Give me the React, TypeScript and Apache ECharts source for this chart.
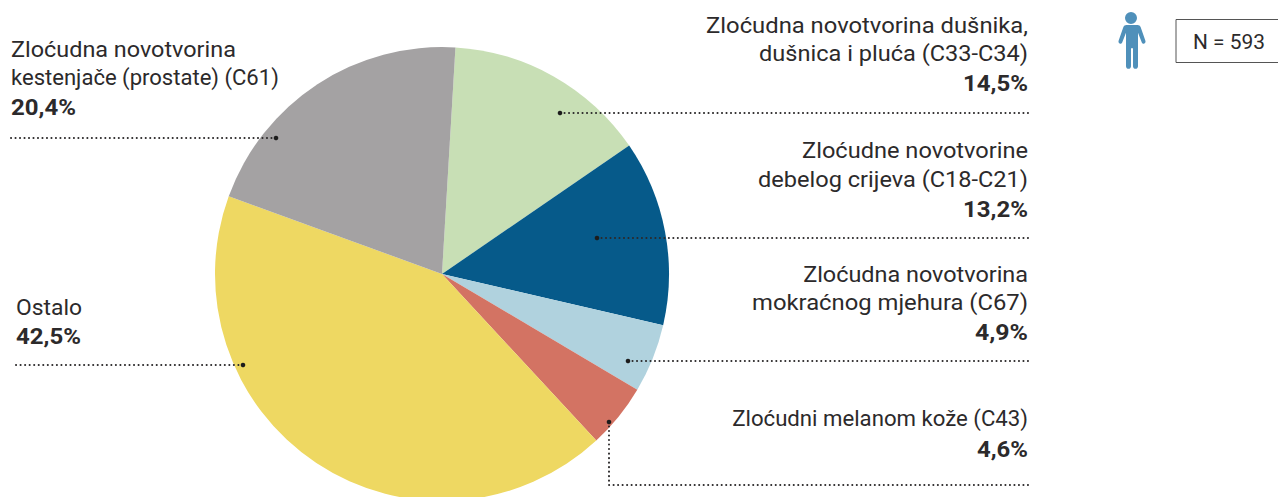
import React, { useEffect, useRef } from "react";
import * as echarts from "echarts";

const categories = [
  "Zloćudna novotvorina dušnika, dušnica i pluća (C33-C34)",
  "Zloćudne novotvorine debelog crijeva (C18-C21)",
  "Zloćudna novotvorina mokraćnog mjehura (C67)",
  "Zloćudni melanom kože (C43)",
  "Ostalo",
  "Zloćudna novotvorina kestenjače (prostate) (C61)",
];
const values = [14.5, 13.2, 4.9, 4.6, 42.5, 20.4];
const colors = ["#c8dfb5", "#065a8a", "#b0d2de", "#d37363", "#eed862", "#a4a2a3"];
const nText = "N = 593";

const FONT = "Roboto, sans-serif";
const INK = "#2c2a2b";
const FS = 22;

type Lbl = { lines: string[]; pct: string; ys: number[]; widths: number[]; align: "left" | "right"; x: number; path: number[][] };
const labels: Lbl[] = [
  { lines: ["Zloćudna novotvorina dušnika,", "dušnica i pluća (C33-C34)"], pct: "14,5%", ys: [26, 54, 83.7], widths: [322, 269, 65], align: "right", x: 1028, path: [[560, 113], [1028, 113]] },
  { lines: ["Zloćudne novotvorine", "debelog crijeva (C18-C21)"], pct: "13,2%", ys: [151, 180, 209.7], widths: [226, 270, 65], align: "right", x: 1028, path: [[597, 238], [1028, 238]] },
  { lines: ["Zloćudna novotvorina", "mokraćnog mjehura (C67)"], pct: "4,9%", ys: [275, 303, 332.7], widths: [225, 276, 53], align: "right", x: 1028, path: [[628, 361], [1028, 361]] },
  { lines: ["Zloćudni melanom kože (C43)"], pct: "4,6%", ys: [419, 449.7], widths: [296, 51], align: "right", x: 1028, path: [[609, 422], [609, 485], [1028, 485]] },
  { lines: ["Ostalo"], pct: "42,5%", ys: [307, 336.7], widths: [66, 65], align: "left", x: 16, path: [[243, 365], [16, 365]] },
  { lines: ["Zloćudna novotvorina", "kestenjače (prostate) (C61)"], pct: "20,4%", ys: [50, 78, 107.7], widths: [225, 268, 65], align: "left", x: 11, path: [[276, 138], [11, 138]] },
];

const PERSON =
  "M1131 12a6 6 0 1 1 0 12a6 6 0 1 1 0-12z" +
  "M1124.5 25h13c1.6 0 2.6.8 3.2 2.2l4.7 13.6c.9 2.6-2.5 4-3.6 1.6l-3.8-9.6v33.4c0 3.4-5 3.4-5 0v-18h-2v18c0 3.4-5 3.4-5 0v-33.4l-3.8 9.6c-1.1 2.4-4.5 1-3.6-1.6l4.7-13.6c.6-1.4 1.6-2.2 3.2-2.2z";
echarts.graphic.registerShape("person", echarts.graphic.extendPath(PERSON, {}));

export default function App() {
  const ref = useRef<HTMLDivElement>(null);
  useEffect(() => {
    const chart = echarts.init(ref.current!, undefined, { renderer: "svg" });
    const ctx = document.createElement("canvas").getContext("2d")!;
    const fit = (t: string, font: string, w: number) => {
      ctx.font = font;
      return w / ctx.measureText(t).width;
    };
    const graphic: any[] = [];
    labels.forEach((l) => {
      const all = [...l.lines, l.pct];
      all.forEach((t, i) => {
        const bold = i === all.length - 1;
        const font = `${bold ? 700 : 400} ${FS}px ${FONT}`;
        graphic.push({
          type: "text",
          x: l.x,
          y: l.ys[i],
          scaleX: fit(t, font, l.widths[i]),
          style: {
            text: t,
            fill: INK,
            font,
            textAlign: l.align,
            textVerticalAlign: "middle",
          },
          z: 10,
        });
      });
      let len = 0;
      for (let i = 1; i < l.path.length; i++) {
        len += Math.abs(l.path[i][0] - l.path[i - 1][0]) + Math.abs(l.path[i][1] - l.path[i - 1][1]);
      }
      const period = (len - 0.1) / Math.round(len / 4.5);
      graphic.push({
        type: "polyline",
        shape: { points: l.path },
        style: { stroke: INK, lineWidth: 2, lineDash: [0.1, period - 0.1], lineCap: "round", fill: "none" },
        z: 10,
      });
      graphic.push({
        type: "circle",
        shape: { cx: l.path[0][0], cy: l.path[0][1], r: 2.3 },
        style: { fill: "#1c1c1c" },
        z: 11,
      });
    });
    graphic.push({ type: "person", style: { fill: "#4f90ba" } });
    graphic.push({
      type: "rect",
      shape: { x: 1176, y: 19.5, width: 120, height: 43 },
      style: { fill: "#fff", stroke: "#555", lineWidth: 1 },
    });
    const nFont = `400 20px ${FONT}`;
    graphic.push({
      type: "text",
      x: 1193,
      y: 42,
      scaleX: fit(nText, nFont, 72),
      style: { text: nText, fill: INK, font: nFont, textVerticalAlign: "middle" },
      z: 10,
    });

    chart.setOption({
      animation: false,
      backgroundColor: "#fff",
      series: [
        {
          type: "pie",
          center: [442, 274],
          radius: [0, 227],
          startAngle: 86.6,
          clockwise: true,
          silent: true,
          label: { show: false },
          labelLine: { show: false },
          data: categories.map((name, i) => ({ name, value: values[i], itemStyle: { color: colors[i] } })),
        },
      ],
      graphic,
    });
    return () => chart.dispose();
  }, []);
  return <div ref={ref} style={{ position: "absolute", left: 0, top: 0, width: 1278, height: 497 }} />;
}
